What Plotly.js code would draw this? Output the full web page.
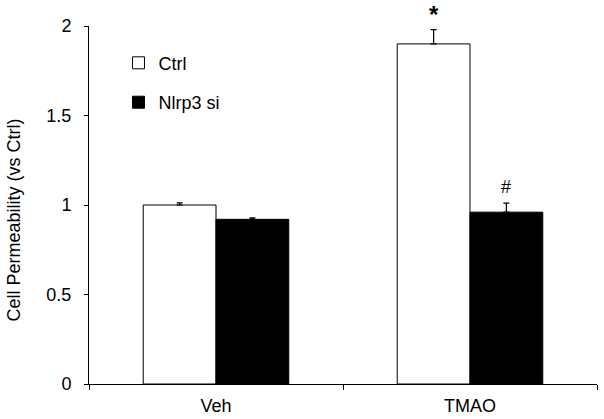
<!DOCTYPE html>
<html>
<head>
<meta charset="utf-8">
<script src="https://cdn.plot.ly/plotly-3.0.1.min.js"></script>
<style>html,body{margin:0;padding:0;background:#fff;}#chart{width:604px;height:419px;}</style>
</head>
<body>
<div id="chart"></div>
<script>
var categories = ["Veh", "TMAO"];
var ctrlValues = [1.00, 1.90];
var ctrlErrors = [0.012, 0.08];
var siValues = [0.92, 0.96];
var siErrors = [0.008, 0.05];
var seriesNames = ["Ctrl", "Nlrp3 si"];
var markLabels = ["*", "#"];
var yTitle = "Cell Permeability (vs Ctrl)";

var FONT = "Liberation Sans, Arial, sans-serif";
var FS = 18;

var traces = [
  {
    type: "bar", name: seriesNames[0], x: categories, y: ctrlValues,
    legendgroup: "a",
    marker: {color: "#ffffff", line: {color: "#000000", width: 1}},
    error_y: {type: "data", symmetric: false, array: ctrlErrors, arrayminus: [0, 0],
              color: "#000000", thickness: 1.2, width: 3}
  },
  {
    type: "bar", name: seriesNames[1], x: categories, y: siValues,
    legendgroup: "b",
    marker: {color: "#000000", line: {color: "#000000", width: 1}},
    error_y: {type: "data", symmetric: false, array: siErrors, arrayminus: [0, 0],
              color: "#000000", thickness: 1.2, width: 3}
  }
];

var bargap = 0.427;
var half = (1 - bargap) / 4;

var layout = {
  width: 604, height: 419,
  margin: {l: 89, r: 7, t: 26, b: 35},
  paper_bgcolor: "#ffffff", plot_bgcolor: "#ffffff",
  font: {family: FONT, size: FS, color: "#000000"},
  barmode: "group", bargap: bargap, bargroupgap: 0,
  showlegend: true,
  legend: {x: 0.058, y: 0.948, xanchor: "left", yanchor: "top",
           bgcolor: "rgba(0,0,0,0)", traceorder: "grouped", tracegroupgap: 13,
           font: {family: FONT, size: FS, color: "#000000"}},
  xaxis: {
    type: "category", tickson: "boundaries", ticks: "outside", ticklen: 5,
    tickcolor: "#000000", showline: true, linecolor: "#000000", linewidth: 1,
    showgrid: false, zeroline: false, ticklabelstandoff: 5,
    tickfont: {family: FONT, size: FS, color: "#000000"}
  },
  yaxis: {
    range: [0, 2], dtick: 0.5, tick0: 0, ticks: "outside", ticklen: 4,
    tickcolor: "#000000", showline: true, linecolor: "#000000", linewidth: 1,
    showgrid: false, zeroline: false, ticklabelstandoff: 9,
    tickfont: {family: FONT, size: FS, color: "#000000"}
  },
  annotations: [
    {xref: "paper", yref: "paper", x: -0.1457, y: 0.4595, text: yTitle,
     textangle: -90, showarrow: false, xanchor: "center", yanchor: "middle",
     font: {family: FONT, size: FS, color: "#000000"}},
    {xref: "x", yref: "y", x: 1 - half, y: ctrlValues[1] + ctrlErrors[1],
     text: markLabels[0], showarrow: false, yanchor: "bottom", yshift: 0,
     font: {family: FONT, size: 24, color: "#000000", weight: "bold"}},
    {xref: "x", yref: "y", x: 1 + half, y: siValues[1] + siErrors[1],
     text: markLabels[1], showarrow: false, yanchor: "bottom", yshift: 4,
     font: {family: FONT, size: FS, color: "#000000"}}
  ]
};

Plotly.newPlot("chart", traces, layout, {displayModeBar: false, staticPlot: true});
</script>
</body>
</html>
